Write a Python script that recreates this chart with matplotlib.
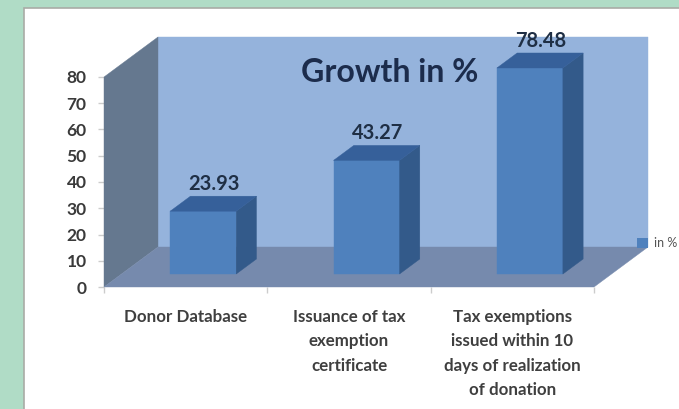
import matplotlib
matplotlib.use('Agg')
import matplotlib.pyplot as plt
from matplotlib.patches import Polygon, Rectangle, Patch

categories = ['Donor Database',
              'Issuance of tax\nexemption\ncertificate',
              'Tax exemptions\nissued within 10\ndays of realization\nof donation']
growth = [23.93, 43.27, 78.48]
yticks = [0, 10, 20, 30, 40, 50, 60, 70, 80]
series_name = 'in %'
title = 'Growth in %'

W, H = 679, 409
SLOT = 490 / 3       # pixels per category
UNIT = 210 / 80      # pixels per percent
DX = 54 / SLOT       # full floor depth, in x units
DY = 40 / UNIT       # full floor depth, in y units
HALF = 33 / SLOT     # half width of a bar
D0, D1 = 0.325, 0.70 # bar front and back inside the floor depth

plt.rcParams['font.family'] = ['Lato', 'DejaVu Sans']


def proj(x, y, d):
    # oblique projection, d=0 is the front plane and d=1 the back wall
    return (x + d * DX, y + d * DY)


def poly(ax, pts, color, z):
    ax.add_patch(Polygon(pts, closed=True, facecolor=color, edgecolor=color,
                         linewidth=0.3, zorder=z, clip_on=False))


fig = plt.figure(figsize=(W / 100, H / 100), dpi=100, facecolor='#B0DCC6')
fig.add_artist(Rectangle((24 / W, -0.01), 1, 1.01 - 8 / H, transform=fig.transFigure,
                         facecolor='white', edgecolor='#A9ABA6', linewidth=1.2, zorder=-1))

ax = fig.add_axes([104 / W, 1 - 287 / H, (648 - 104) / W, (287 - 37) / H])
ax.set_xlim(-0.5, 2.5 + DX)
ax.set_ylim(0, 80 + DY)
ax.patch.set_visible(False)
for s in ax.spines.values():
    s.set_visible(False)

# walls and floor
poly(ax, [proj(-0.5, 0, 1), proj(2.5, 0, 1), proj(2.5, 80, 1), proj(-0.5, 80, 1)], '#95B3DC', 1)
poly(ax, [proj(-0.5, 0, 0), proj(-0.5, 80, 0), proj(-0.5, 80, 1), proj(-0.5, 0, 1)], '#65788F', 2)
poly(ax, [proj(-0.5, 0, 0), proj(2.5, 0, 0), proj(2.5, 0, 1), proj(-0.5, 0, 1)], '#768AAD', 2)

# bars
for i, v in enumerate(growth):
    l, r = i - HALF, i + HALF
    poly(ax, [proj(l, 0, D0), proj(r, 0, D0), proj(r, v, D0), proj(l, v, D0)], '#4F81BD', 3)
    poly(ax, [proj(r, 0, D0), proj(r, 0, D1), proj(r, v, D1), proj(r, v, D0)], '#335A8A', 3)
    poly(ax, [proj(l, v, D0), proj(r, v, D0), proj(r, v, D1), proj(l, v, D1)], '#36609A', 3)
    lx, ly = proj(i, v, (D0 + D1) / 2)
    ax.text(lx + 0.005, v + D1 * DY + 12 / UNIT, '%.2f' % v, ha='center', va='center',
            fontsize=14.5, fontweight='bold', color='#1F2F45', zorder=5, clip_on=False)

ax.set_yticks(yticks)
ax.set_xticks([-0.5, 0.5, 1.5, 2.5])
ax.set_xticklabels([])
ax.set_xticks(range(3), labels=categories, minor=True)
ax.tick_params(axis='y', length=4.5, width=1, color='#CCCCCC', pad=8, labelsize=12.5,
               labelcolor='#3A3A3A')
ax.tick_params(axis='x', length=4, width=1, color='#CCCCCC')
ax.tick_params(axis='x', which='minor', length=0, pad=16, labelsize=12.2, labelcolor='#3F3F3F')
for t in ax.get_yticklabels():
    t.set_fontweight('bold')
for t in ax.get_xticklabels(minor=True):
    t.set_fontweight('bold')
    t.set_linespacing(1.63)

fig.text(390 / W, 1 - 73 / H, title, ha='center', va='center', fontsize=23,
         fontweight='bold', color='#1C2C4C', zorder=6)

fig.legend(handles=[Patch(facecolor='#4F81BD', label=series_name)], loc='center left',
           bbox_to_anchor=(637 / W, 1 - 243 / H), frameon=False, fontsize=9,
           labelcolor='#555555', handlelength=0.9, handleheight=0.9, handletextpad=0.5,
           borderpad=0, borderaxespad=0)

fig.savefig('out.png', dpi=100, facecolor=fig.get_facecolor())
